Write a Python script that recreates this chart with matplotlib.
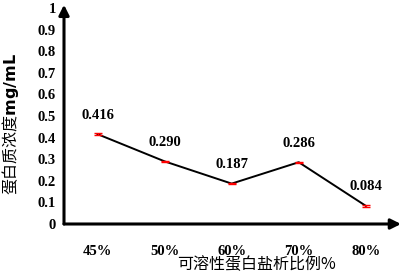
import matplotlib.pyplot as plt

plt.rcParams['font.family'] = ['Liberation Serif', 'Noto Sans CJK SC']

categories = ['45%', '50%', '60%', '70%', '80%']
values = [0.416, 0.290, 0.187, 0.286, 0.084]
errors = [0.003, 0.003, 0.003, 0.003, 0.003]
yticks = [0, 0.1, 0.2, 0.3, 0.4, 0.5, 0.6, 0.7, 0.8, 0.9, 1]

fig = plt.figure(figsize=(4.01, 2.76), dpi=100)
ax = fig.add_axes([64 / 401, 52 / 276, (396 - 64) / 401, (224 - 8) / 276])

x = list(range(len(categories)))
ax.plot(x, values, color='black', lw=1.4, zorder=2)
ax.errorbar(x, values, yerr=errors, fmt='none', ecolor='red', elinewidth=1.0,
            capsize=2.8, capthick=1.0, zorder=3)

for xi, v in zip(x, values):
    ax.annotate(f'{v:.3f}', (xi, v), xytext=(0, 9), textcoords='offset points',
                ha='center', va='bottom', fontsize=10.5, fontweight='bold')

ax.set_xlim(-0.5, 4.45)
ax.set_ylim(0, 1)
ax.set_xticks(x)
ax.set_xticklabels(categories, fontsize=10.5, fontweight='bold')
ax.set_yticks(yticks)
ax.set_yticklabels([f'{t:g}' for t in yticks], fontsize=10.5, fontweight='bold')
ax.tick_params(length=0)
ax.tick_params(axis='x', pad=15)
ax.tick_params(axis='y', pad=6)

for s in ax.spines.values():
    s.set_visible(False)

# axis arrows
ax.annotate('', xy=(-0.5, 1.015), xytext=(-0.5, 0), xycoords=('data', 'axes fraction'),
            arrowprops=dict(arrowstyle='-|>,head_length=0.6,head_width=0.3', color='black', lw=2.2,
                            shrinkA=0, shrinkB=0), annotation_clip=False)
ax.annotate('', xy=(1.015, 0), xytext=(0, 0), xycoords='axes fraction',
            arrowprops=dict(arrowstyle='-|>,head_length=0.6,head_width=0.3', color='black', lw=2.2,
                            shrinkA=0, shrinkB=0), annotation_clip=False)

fig.text(256 / 401, 1 - 265 / 276, '可溶性蛋白盐析比例%', ha='center', va='center',
         fontsize=11.5, family=['Noto Sans CJK SC'])
fig.text(11 / 401, 1 - 124 / 276, '蛋白质浓度$\\mathbf{mg/mL}$', ha='center', va='center',
         rotation=90, fontsize=11.5, family=['Noto Sans CJK SC'])

fig.savefig('out.png', dpi=100)
